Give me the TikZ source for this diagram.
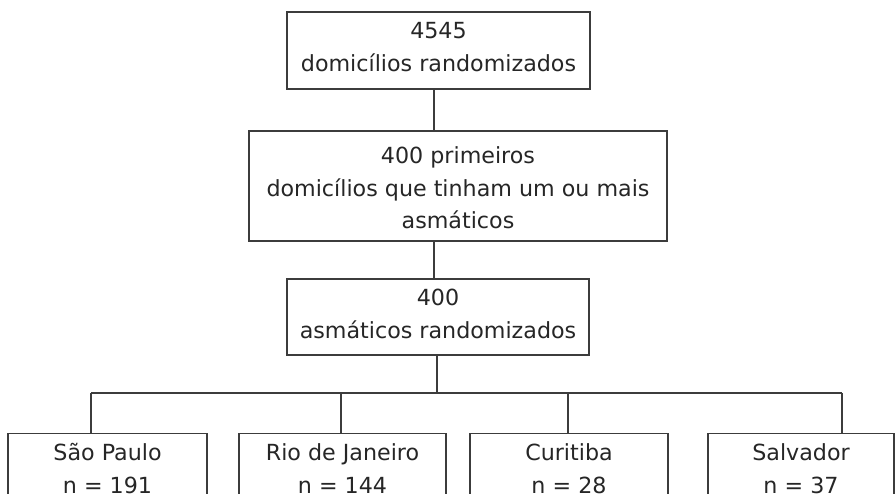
\documentclass[tikz,border=0pt]{standalone}
\usepackage{fontspec}
\setmainfont{DejaVu Sans}
\definecolor{linec}{HTML}{3C3C3C}
\definecolor{textc}{HTML}{262626}
\begin{document}
\begin{tikzpicture}[x=1pt,y=-1pt,
  box/.style={draw=linec, line width=1.1pt, inner sep=0pt},
  txt/.style={inner sep=0pt, align=center, text=textc,
    font=\fontsize{22.2}{32.5}\selectfont},
  conn/.style={draw=linec, line width=1.1pt}]
\useasboundingbox (0,0) rectangle (895,494);
\fill[white] (0,0) rectangle (895,494);
\node[box, minimum width=303pt, minimum height=77pt] (top) at (438.5,50.5) {};
\node[txt, yshift=3.5pt] (toptxt) at (top) {4545\\domicílios randomizados};
\node[box, minimum width=418pt, minimum height=110pt] (mid) at (458,186) {};
\node[txt, yshift=-2pt] (midtxt) at (mid) {400 primeiros\\domicílios que tinham um ou mais\\asmáticos};
\node[box, minimum width=302pt, minimum height=76pt] (ast) at (438,317) {};
\node[txt, yshift=3pt] (asttxt) at (ast) {400\\asmáticos randomizados};
\node[box, anchor=north, minimum width=199pt, minimum height=72pt] (sp) at (107.5,433) {};
\node[box, anchor=north, minimum width=207pt, minimum height=72pt] (rj) at (342.5,433) {};
\node[box, anchor=north, minimum width=198pt, minimum height=72pt] (cu) at (569,433) {};
\node[box, anchor=north, minimum width=186pt, minimum height=72pt] (sa) at (801,433) {};
\node[txt, yshift=1pt] (sptxt) at (sp) {São Paulo\\n = 191};
\node[txt, yshift=1pt] (rjtxt) at (rj) {Rio de Janeiro\\n = 144};
\node[txt, yshift=1pt] (cutxt) at (cu) {Curitiba\\n = 28};
\node[txt, yshift=1pt] (satxt) at (sa) {Salvador\\n = 37};
\coordinate (t1) at (434,89);
\coordinate (t2) at (437,355);
\coordinate (b1) at (91,393);
\coordinate (b2) at (341,393);
\coordinate (b3) at (568,393);
\coordinate (b4) at (842,393);
\draw[conn] (t1) -- (t1 |- mid.north);
\draw[conn] (t1 |- mid.south) -- (t1 |- ast.north);
\draw[conn] (t2) -- (t2 |- b1);
\draw[conn] (b1) -- (b4);
\draw[conn] (b1) -- (b1 |- sp.north);
\draw[conn] (b2) -- (b2 |- rj.north);
\draw[conn] (b3) -- (b3 |- cu.north);
\draw[conn] (b4) -- (b4 |- sa.north);
\end{tikzpicture}
\end{document}
